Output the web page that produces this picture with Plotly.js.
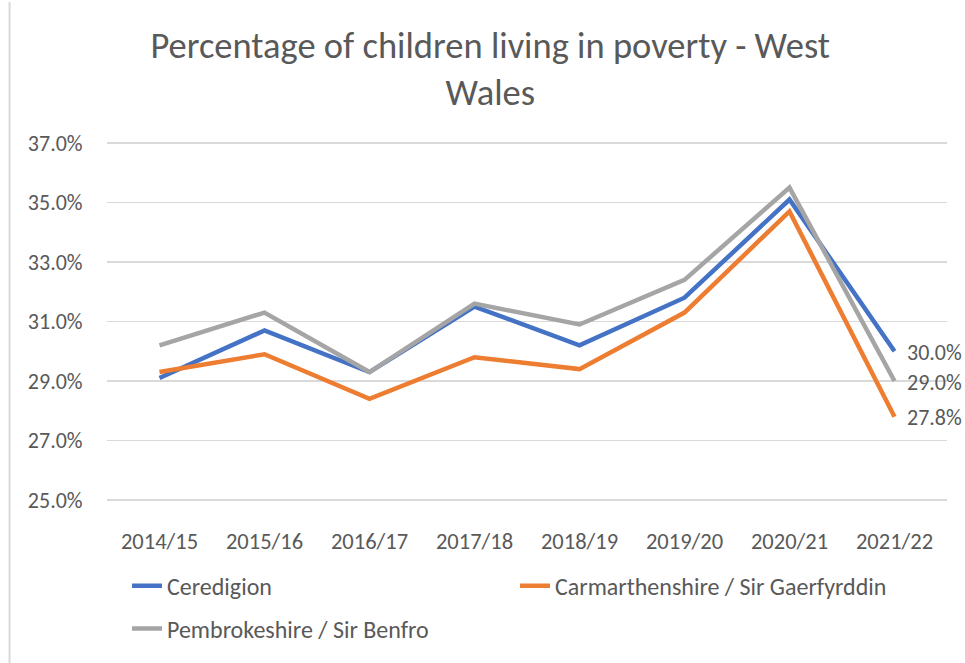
<!DOCTYPE html>
<html>
<head>
<meta charset="utf-8">
<script src="https://cdn.plot.ly/plotly-3.0.1.min.js"></script>
<style>html,body{margin:0;padding:0;background:#fff;}#chart{width:965px;height:663px;}</style>
</head>
<body>
<div id="chart"></div>
<script>
const years = ["2014/15","2015/16","2016/17","2017/18","2018/19","2019/20","2020/21","2021/22"];
const ceredigion = [29.1, 30.7, 29.3, 31.5, 30.2, 31.8, 35.1, 30.0];
const carmarthenshire = [29.3, 29.9, 28.4, 29.8, 29.4, 31.3, 34.7, 27.8];
const pembrokeshire = [30.2, 31.3, 29.3, 31.6, 30.9, 32.4, 35.5, 29.0];
const yTicks = [25, 27, 29, 31, 33, 35, 37];
const seriesNames = ["Ceredigion", "Carmarthenshire / Sir Gaerfyrddin", "Pembrokeshire / Sir Benfro"];

const FONT = "Carlito, Lato, sans-serif";
const TXT = "#595959";
function mk(name, vals, color, legendId){
  return {x: years, y: vals, name: name, type: "scatter", mode: "lines",
    line: {color: color, width: 4.5}, hoverinfo: "skip", legend: legendId};
}
const data = [
  mk(seriesNames[0], ceredigion, "#4472C4", "legend"),
  mk(seriesNames[1], carmarthenshire, "#ED7D31", "legend"),
  mk(seriesNames[2], pembrokeshire, "#A5A5A5", "legend2")
];
const last = years.length - 1;
const endLabels = [ceredigion, carmarthenshire, pembrokeshire].map(vals => ({
  x: years[last], y: vals[last], xref: "x", yref: "y", text: vals[last].toFixed(1) + "%",
  showarrow: false, xanchor: "left", yanchor: "middle", xshift: 10, yshift: -1,
  font: {family: FONT, size: 22, color: TXT}
}));
const legendFont = {family: FONT, size: 24, color: TXT};
const layout = {
  width: 965, height: 663,
  margin: {l: 107, r: 18, t: 140, b: 156},
  paper_bgcolor: "#fff", plot_bgcolor: "#fff",
  font: {family: FONT, color: TXT},
  title: {text: "Percentage of children living in poverty - West<br>Wales", x: 0.508, xanchor: "center", y: 0.913, yanchor: "top",
    font: {family: FONT, size: 36.5, color: TXT}},
  xaxis: {type: "category", range: [-0.5, 7.5], showgrid: false, zeroline: false, showline: false,
    ticks: "outside", ticklen: 18, tickcolor: "rgba(0,0,0,0)", tickfont: {family: FONT, size: 22.5, color: TXT}},
  yaxis: {range: [24.9, 37.1], tickvals: yTicks, ticktext: yTicks.map(v=>v.toFixed(1)+"%"),
    showgrid: true, gridcolor: "#D9D9D9", gridwidth: 1.5, zeroline: false, showline: false,
    ticks: "outside", ticklen: 19, tickcolor: "rgba(0,0,0,0)", tickfont: {family: FONT, size: 22, color: TXT}},
  legend: {orientation: "h", x: 0.0238, xanchor: "left", y: -0.167, yanchor: "top",
    entrywidth: 343, entrywidthmode: "pixels", font: legendFont},
  legend2: {orientation: "h", x: 0.0238, xanchor: "left", y: -0.285, yanchor: "top", font: legendFont},
  annotations: endLabels,
  shapes: [{type: "line", xref: "paper", yref: "paper", x0: -0.116, x1: -0.116, y0: -0.45, y1: 1.38,
    line: {color: "#D9D9D9", width: 2}}],
  showlegend: true
};
Plotly.newPlot("chart", data, layout, {displayModeBar: false, staticPlot: true});
</script>
</body>
</html>
